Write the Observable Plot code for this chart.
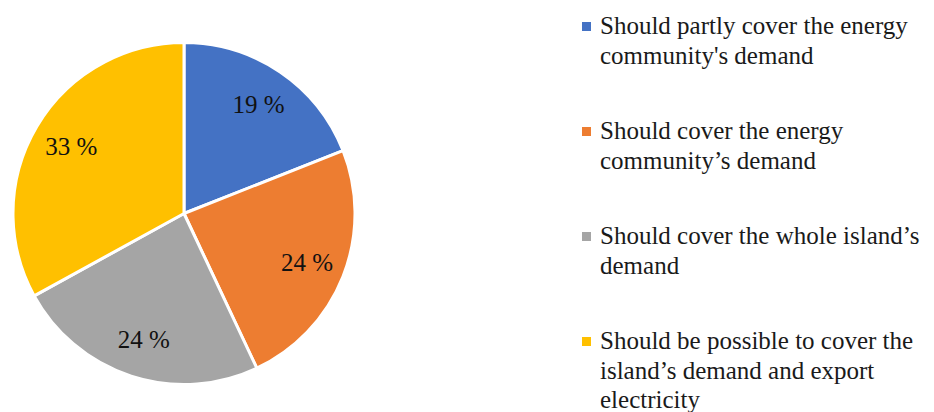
<!DOCTYPE html>
<html>
<head>
<meta charset="utf-8">
<script src="https://cdn.jsdelivr.net/npm/d3@7"></script>
<script src="https://cdn.jsdelivr.net/npm/@observablehq/plot@0.6"></script>
<style>
  html, body { margin: 0; padding: 0; background: #fff; overflow: hidden; }
  #wrap { position: relative; width: 934px; height: 412px; }
  #chart { position: absolute; left: 0; top: 0; }
  #legend { position: absolute; left: 582px; top: 11px; font-family: 'Liberation Serif', serif; font-size: 25px; color: #1a1a1a; }
  .item { display: flex; align-items: flex-start; margin-bottom: 46px; }
  .sw { width: 9px; height: 9px; margin-top: 11px; margin-right: 9px; flex: none; }
  .txt { line-height: 29.5px; white-space: pre; }
</style>
</head>
<body>
<div id="wrap"><div id="chart"></div><div id="legend"></div></div>
<script>
const categories = [
  "Should partly cover the energy community's demand",
  "Should cover the energy community’s demand",
  "Should cover the whole island’s demand",
  "Should be possible to cover the island’s demand and export electricity"
];
const legendLines = [
  ["Should partly cover the energy", "community's demand"],
  ["Should cover the energy", "community’s demand"],
  ["Should cover the whole island’s", "demand"],
  ["Should be possible to cover the", "island’s demand and export", "electricity"]
];
const values = [19, 24, 24, 33];
const valueLabels = ["19 %", "24 %", "24 %", "33 %"];
const colors = ["#4472C4", "#ED7D31", "#A5A5A5", "#FFC000"];

const data = categories.map((c, i) => ({category: c, value: values[i], label: valueLabels[i]}));
const arcs = d3.pie().sort(null).value(d => d.value)(data);
// label positions in data units (pie radius = 1)
const labelArc = d3.arc().innerRadius(0.77).outerRadius(0.77);
const labelData = arcs.map(a => {
  const [cx, cy] = labelArc.centroid(a);
  return {label: a.data.label, x: cx, y: -cy, category: a.data.category};
});

function pieMark(index, scales, values, dimensions, context) {
  const cx = scales.x(0), cy = scales.y(0);
  const r = scales.x(1) - scales.x(0);
  const g = d3.create("svg:g").attr("transform", `translate(${cx},${cy})`);
  const arcGen = d3.arc().innerRadius(0).outerRadius(r);
  g.selectAll("path").data(arcs).join("path")
    .attr("d", arcGen)
    .attr("fill", d => scales.color(d.data.category))
    .attr("stroke", "#fff")
    .attr("stroke-width", 3)
    .attr("stroke-linejoin", "round");
  return g.node();
}

const chart = Plot.plot({
  width: 370,
  height: 412,
  marginTop: 42, marginBottom: 27, marginLeft: 13, marginRight: 15,
  x: {domain: [-1, 1], axis: null},
  y: {domain: [-1, 1], axis: null},
  color: {domain: categories, range: colors},
  marks: [
    pieMark,
    Plot.dot(labelData, {x: "x", y: "y", fill: "category", r: 0, stroke: null}),
    Plot.text(labelData, {x: "x", y: "y", text: "label", fontSize: 25, fill: "#111",
      fontFamily: "Liberation Serif"})
  ]
});
document.getElementById("chart").appendChild(chart);

const legend = d3.select("#legend");
categories.forEach((c, i) => {
  const item = legend.append("div").attr("class", "item");
  item.append("div").attr("class", "sw").style("background", colors[i]);
  item.append("div").attr("class", "txt").text(legendLines[i].join("\n"));
});
</script>
</body>
</html>
